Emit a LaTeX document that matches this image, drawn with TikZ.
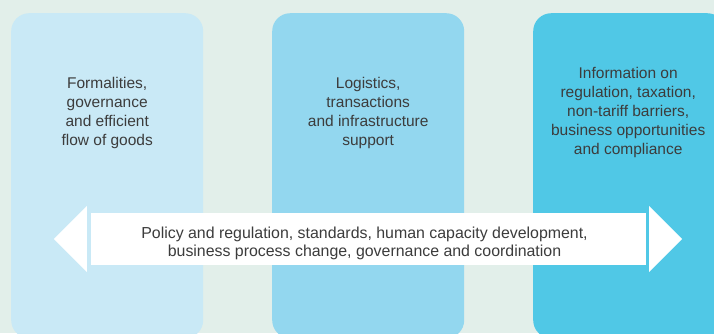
\documentclass[tikz,border=0pt]{standalone}
\usepackage{fontspec}
\setmainfont{Liberation Sans}
\usetikzlibrary{positioning}
\definecolor{bgmint}{HTML}{E2EFEA}
\definecolor{paleblue}{HTML}{C9E9F6}
\definecolor{midblue}{HTML}{93D7EF}
\definecolor{deepcyan}{HTML}{50C8E6}
\definecolor{textgrey}{HTML}{3C3C3C}

\begin{document}
\begin{tikzpicture}
			[x=1pt,y=-1pt,
			pillar/.style={rounded corners=18pt, minimum width=192pt, minimum height=325pt, anchor=north west, inner sep=0pt},
			pillartext/.style={text=textgrey, align=center, font=\fontsize{15.5}{19}\selectfont},
			band/.style={fill=white, minimum width=555pt, minimum height=52pt, inner sep=0pt}]
			\useasboundingbox (0,0) rectangle (714,333);
			\clip (0,0) rectangle (714,333);
			\fill[bgmint] (0,0) rectangle (714,333);
			% the three pillars
			\node[pillar, fill=paleblue] (formalities) at (11,13) {};
			\node[pillar, fill=midblue] (logistics) at (272,13) {};
			\node[pillar, fill=deepcyan] (information) at (533,13) {};
			\node[pillartext] (formalitiestext) at ([yshift=63pt]formalities.center)
				{Formalities,\\governance\\and efficient\\flow of goods};
			\node[pillartext] (logisticstext) at ([yshift=63pt]logistics.center)
				{Logistics,\\transactions\\and infrastructure\\support};
			\node[pillartext] (informationtext) at ([yshift=63pt, xshift=-1pt]information.center)
				{Information on\\regulation, taxation,\\non-tariff barriers,\\business opportunities\\and compliance};
			% double arrow across the pillars
			\node[band] (policy) at (368.5,239) {};
			\node[pillartext, font=\fontsize{15.9}{18.5}\selectfont] (policytext) at ([xshift=-4pt,yshift=-4.5pt]policy.center)
				{Policy and regulation, standards, human capacity development,\\business process change, governance and coordination};
			\fill[white] ([xshift=-4pt]policy.west) ++(0,-33) -- ++(-33,33) -- ++(33,33) -- cycle;
			\fill[white] ([xshift=3pt]policy.east) ++(0,-33) -- ++(33,33) -- ++(-33,33) -- cycle;
\end{tikzpicture}
\end{document}
